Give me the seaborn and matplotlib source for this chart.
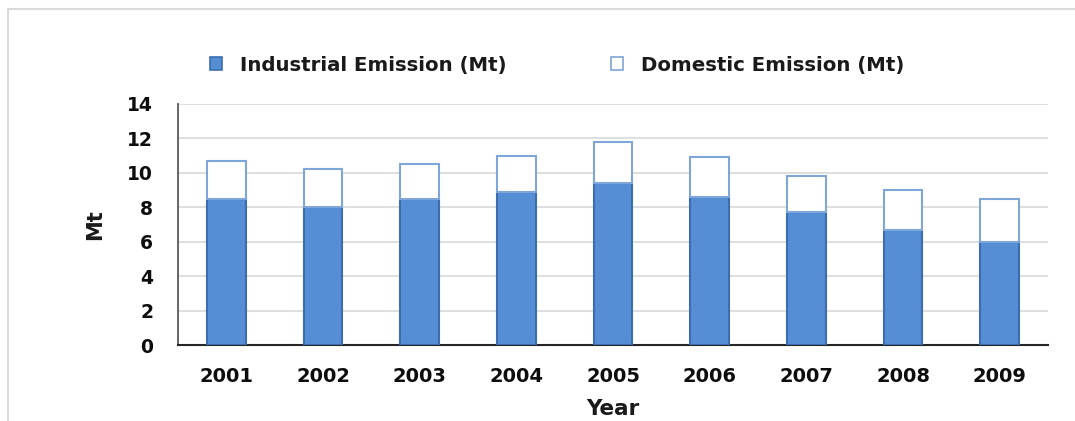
import matplotlib
matplotlib.use("Agg")
import matplotlib.pyplot as plt
from matplotlib.patches import Patch
from matplotlib.lines import Line2D
import seaborn as sns
import pandas as pd

years = ["2001", "2002", "2003", "2004", "2005", "2006", "2007", "2008", "2009"]
industrial = [8.5, 8.0, 8.5, 8.9, 9.4, 8.6, 7.7, 6.7, 6.0]
domestic = [2.2, 2.2, 2.0, 2.1, 2.4, 2.3, 2.1, 2.3, 2.5]
y_ticks = [0, 2, 4, 6, 8, 10, 12, 14]

df = pd.DataFrame({"Year": years, "Industrial": industrial, "Domestic": domestic})

sns.set_theme(style="white")
plt.rcParams["font.family"] = ["DejaVu Sans"]

ind_fill = "#558ED5"
ind_edge = "#3C6DB0"
dom_edge = "#7FA6D8"

fig = plt.figure(figsize=(10.75, 4.21), dpi=100)
ax = fig.add_axes([0.1656, 0.1805, 0.8094, 0.5725])

sns.barplot(data=df, x="Year", y="Industrial", color=ind_fill, saturation=1,
            width=0.40, edgecolor=ind_edge, linewidth=1.5, ax=ax, zorder=3)
sns.barplot(data=df, x="Year", y="Domestic", bottom=df["Industrial"], color="white",
            saturation=1, width=0.40, edgecolor=dom_edge, linewidth=1.5, ax=ax, zorder=3)

ax.set_xlim(-0.5, len(years) - 0.5)
ax.set_ylim(0, 14)
ax.set_yticks(y_ticks)
ax.yaxis.grid(True, color="#D9D9D9", linewidth=1.2, zorder=0)
ax.xaxis.grid(False)
for side in ("top", "right"):
    ax.spines[side].set_visible(False)
ax.spines["left"].set_color("#595959")
ax.spines["left"].set_linewidth(1.3)
ax.spines["bottom"].set_color("#262626")
ax.spines["bottom"].set_linewidth(1.5)
ax.tick_params(axis="both", length=0, colors="#0D0D0D")
ax.tick_params(axis="x", pad=16, labelsize=14)
ax.tick_params(axis="y", pad=18, labelsize=13.5)
for lab in ax.get_xticklabels() + ax.get_yticklabels():
    lab.set_fontweight("bold")

ax.set_xlabel("Year", fontsize=15.5, fontweight="bold", color="#1A1A1A", labelpad=9)
ax.set_ylabel("Mt", fontsize=15, fontweight="bold", color="#1A1A1A", labelpad=16)

handles = [
    Patch(facecolor=ind_fill, edgecolor=ind_edge, linewidth=1.2, label="Industrial Emission (Mt)"),
    Patch(facecolor="white", edgecolor=dom_edge, linewidth=1.2, label="Domestic Emission (Mt)"),
]
fig.legend(handles=handles, loc="center", bbox_to_anchor=(0.518, 0.845), ncol=2,
           frameon=False, handlelength=0.62, handleheight=0.62, handletextpad=0.9,
           columnspacing=5.3, prop={"weight": "bold", "size": 14.2}, labelcolor="#1A1A1A")

# light outer frame (top and left edges) around the chart area
frame_x = 8 / 1075
frame_y = 1 - 9 / 421
fig.add_artist(Line2D([frame_x, 1.0], [frame_y, frame_y], transform=fig.transFigure,
                      color="#D9D9D9", linewidth=1.5))
fig.add_artist(Line2D([frame_x, frame_x], [0.0, frame_y], transform=fig.transFigure,
                      color="#D9D9D9", linewidth=1.5))

fig.savefig("out.png", dpi=100)
